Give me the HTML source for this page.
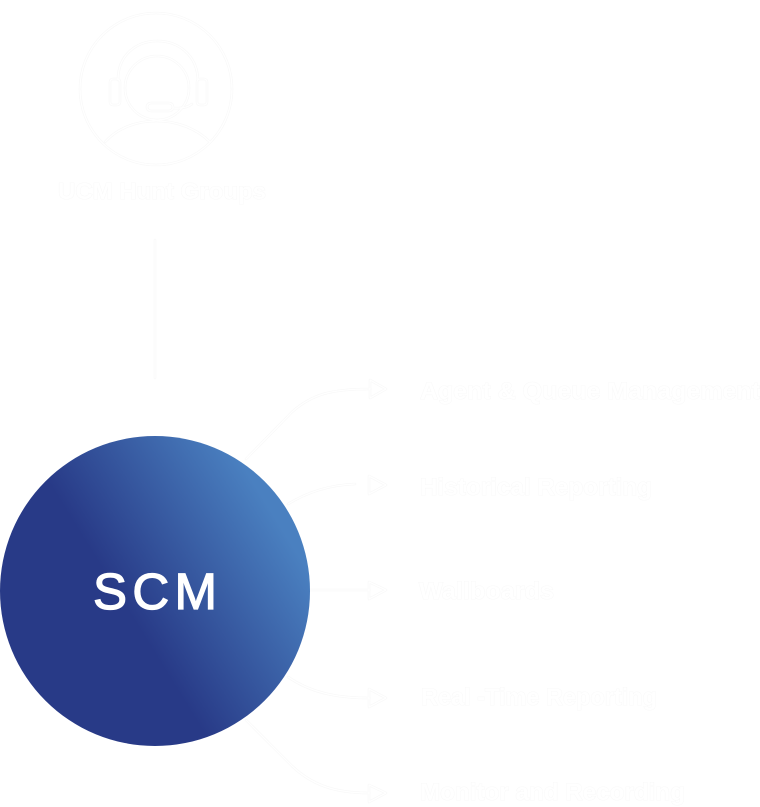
<!DOCTYPE html>
<html><head><meta charset="utf-8">
<style>
html,body{margin:0;padding:0;background:#fff;width:760px;height:807px;overflow:hidden}
svg{display:block}
text{font-family:"Liberation Sans",sans-serif}
</style></head>
<body>
<svg width="760" height="807" viewBox="0 0 760 807" xmlns="http://www.w3.org/2000/svg">
<defs>
<linearGradient id="g" gradientUnits="userSpaceOnUse" x1="36" y1="665" x2="275" y2="517">
<stop offset="0" stop-color="#283a87"/>
<stop offset="0.38" stop-color="#283a87"/>
<stop offset="1" stop-color="#4a80c0"/>
</linearGradient>
<g id="art" fill="none" stroke-linecap="round" stroke-linejoin="round">
<circle cx="156" cy="89" r="76"/>
<path d="M105 142C130 114 182 114 210 142"/>
<circle cx="157" cy="88" r="32"/>
<path d="M118 80C118 28 196 28 198 80"/>
<rect x="110" y="79" width="10" height="26" rx="3"/>
<rect x="197" y="79" width="10" height="26" rx="3"/>
<path d="M192 104Q186 109 173 108"/>
<rect x="147" y="103" width="26" height="8" rx="4"/>
<path d="M155 240V378"/>
<path d="M246 459L292 412C312 394 332 389 370 389"/>
<path d="M370 380L386 389L370 398Z"/>
<path d="M288 504C306 493 328 485 355 484"/>
<path d="M369 476L386 485L369 494Z"/>
<path d="M310 590H369"/>
<path d="M369 582L386 590L369 599Z"/>
<path d="M288 677C310 692 335 698 369 698"/>
<path d="M369 689L386 698L369 707Z"/>
<path d="M246 720L292 766C312 785 335 793 369 793"/>
<path d="M369 785L386 793L369 802Z"/>
</g>
</defs>
<use href="#art" stroke="#f8f8f8" stroke-width="2.6"/>
<use href="#art" stroke="#ffffff" stroke-width="1.3"/>
<circle cx="155" cy="591" r="155" fill="url(#g)"/>
<text x="155" y="609" text-anchor="middle" fill="#fff" stroke="#fff" stroke-width="1.3" textLength="124" lengthAdjust="spacing" style="font-size:51px">SCM</text>
<g fill="#fff" stroke="#f8f8f8" stroke-width="1" paint-order="stroke" font-size="24" font-weight="bold">
<text x="58" y="199" font-size="23" textLength="208" lengthAdjust="spacingAndGlyphs">UCM Hunt Groups</text>
<text x="420" y="399" textLength="340" lengthAdjust="spacingAndGlyphs">Agent &amp; Queue Management</text>
<text x="420" y="495" textLength="232" lengthAdjust="spacingAndGlyphs">Historical Reporting</text>
<text x="419" y="599" textLength="135" lengthAdjust="spacingAndGlyphs">Wallboards</text>
<text x="421" y="705" textLength="236" lengthAdjust="spacingAndGlyphs">Real -Time Reporting</text>
<text x="420" y="800" textLength="265" lengthAdjust="spacingAndGlyphs">Monitor and Recording</text>
</g>
</svg>
</body></html>
